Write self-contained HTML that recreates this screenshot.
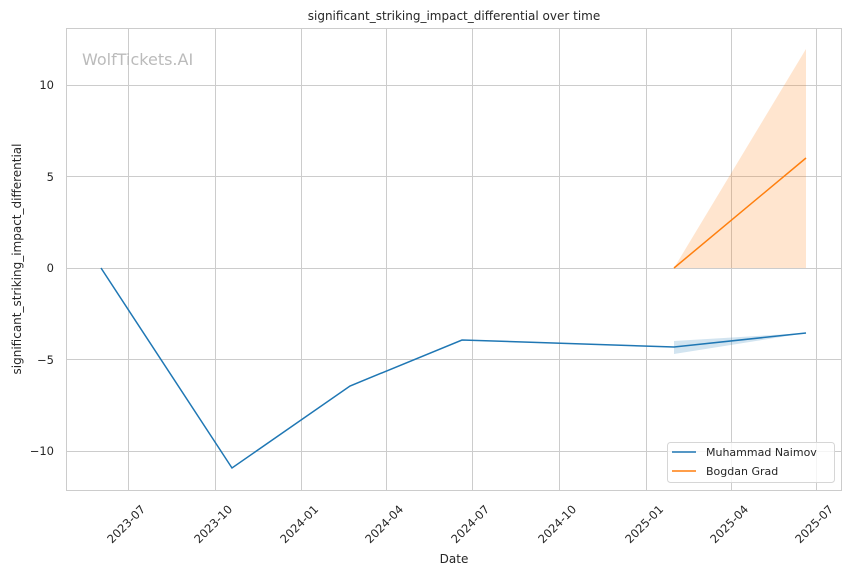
<!DOCTYPE html>
<html><head><meta charset="utf-8"><style>body{margin:0;background:#fff}svg{display:block;font-family:"DejaVu Sans","Liberation Sans",sans-serif}</style></head><body>
<svg width="850" height="575" xmlns="http://www.w3.org/2000/svg">
<rect width="850" height="575" fill="#fff"/>
<g stroke="#cccccc" stroke-width="1">
<line x1="128.5" y1="28.5" x2="128.5" y2="490.5"/><line x1="215.5" y1="28.5" x2="215.5" y2="490.5"/><line x1="301.5" y1="28.5" x2="301.5" y2="490.5"/><line x1="386.5" y1="28.5" x2="386.5" y2="490.5"/><line x1="472.5" y1="28.5" x2="472.5" y2="490.5"/><line x1="559.5" y1="28.5" x2="559.5" y2="490.5"/><line x1="646.5" y1="28.5" x2="646.5" y2="490.5"/><line x1="731.5" y1="28.5" x2="731.5" y2="490.5"/><line x1="816.5" y1="28.5" x2="816.5" y2="490.5"/>
<line x1="66.5" y1="85.5" x2="841.5" y2="85.5"/><line x1="66.5" y1="176.5" x2="841.5" y2="176.5"/><line x1="66.5" y1="268.5" x2="841.5" y2="268.5"/><line x1="66.5" y1="359.5" x2="841.5" y2="359.5"/><line x1="66.5" y1="451.5" x2="841.5" y2="451.5"/>
<rect x="66.5" y="28.5" width="775" height="462" fill="none"/>
</g>
<text x="82" y="65" font-size="16" fill="#bbbbbb">WolfTickets.AI</text>
<polygon points="674,268 806,49 806,268" fill="#ff7f0e" fill-opacity="0.2"/>
<polyline points="674,268 806,158" fill="none" stroke="#ff7f0e" stroke-width="1.5"/>
<polygon points="674,341 806,333 674,354" fill="#1f77b4" fill-opacity="0.2"/>
<polyline points="101,268 232,468 350,386 462,340 674,347 806,333" fill="none" stroke="#1f77b4" stroke-width="1.5"/>
<g font-size="11.5" fill="#262626" text-anchor="end">
<text x="54" y="89">10</text><text x="54" y="181">5</text><text x="54" y="272">0</text><text x="54" y="364">−5</text><text x="54" y="455">−10</text>
</g>
<g font-size="11.5" fill="#262626" text-anchor="end">
<text transform="translate(146,510) rotate(-45)">2023-07</text>
<text transform="translate(233,510) rotate(-45)">2023-10</text>
<text transform="translate(319,510) rotate(-45)">2024-01</text>
<text transform="translate(404,510) rotate(-45)">2024-04</text>
<text transform="translate(490,510) rotate(-45)">2024-07</text>
<text transform="translate(577,510) rotate(-45)">2024-10</text>
<text transform="translate(664,510) rotate(-45)">2025-01</text>
<text transform="translate(749,510) rotate(-45)">2025-04</text>
<text transform="translate(834,510) rotate(-45)">2025-07</text>
</g>
<text x="454" y="563" font-size="12" fill="#262626" text-anchor="middle">Date</text>
<text transform="translate(21,259) rotate(-90)" font-size="12" fill="#262626" text-anchor="middle">significant_striking_impact_differential</text>
<text x="454" y="20" font-size="12" fill="#262626" text-anchor="middle">significant_striking_impact_differential over time</text>
<rect x="667.5" y="442.5" width="167" height="40" rx="3" fill="#fff" fill-opacity="0.8" stroke="#d6d6d6"/>
<line x1="672" y1="452" x2="696" y2="452" stroke="#1f77b4" stroke-width="1.5"/>
<line x1="672" y1="471" x2="696" y2="471" stroke="#ff7f0e" stroke-width="1.5"/>
<text x="706" y="456" font-size="11" fill="#262626">Muhammad Naimov</text>
<text x="706" y="475" font-size="11" fill="#262626">Bogdan Grad</text>
</svg>
</body></html>
